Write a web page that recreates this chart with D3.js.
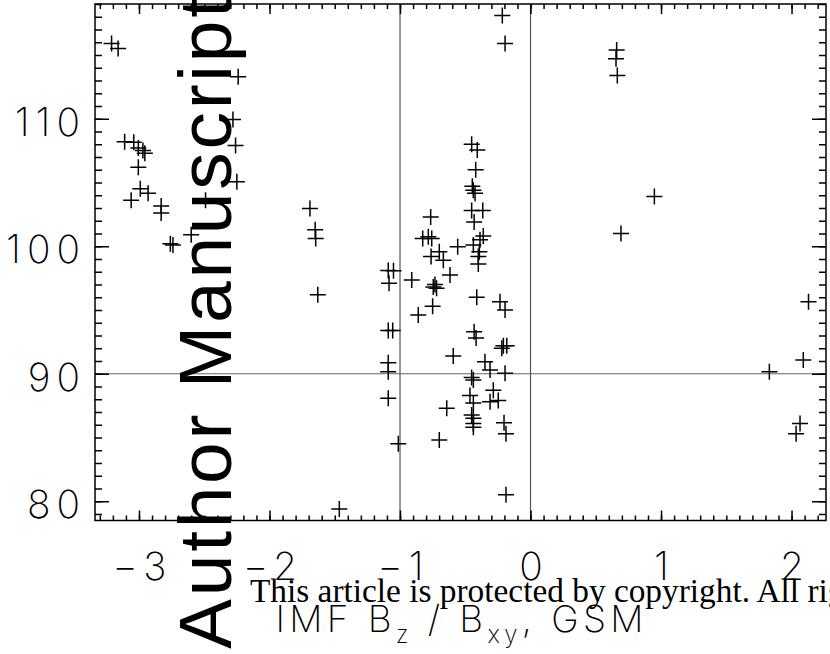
<!DOCTYPE html>
<html>
<head>
<meta charset="utf-8">
<script src="https://cdn.jsdelivr.net/npm/d3@7"></script>
<style>
  body { margin: 0; background: #fff; }
  .lbl { font-family: "Inter", "DejaVu Sans", sans-serif; font-weight: 200; }
</style>
</head>
<body>
<script>
// IMF Bz/Bxy (x) against angle (y)
const bzRatio = [
  -3.21, -3.16, -3.11, -3.04, -3.005, -2.97, -2.955, -3.005, -3.06, -2.99,
  -2.93, -2.83, -2.83, -2.76, -2.74, -2.60, -2.49, -2.24, -2.28, -2.26,
  -2.25, -1.69, -1.65, -1.646, -1.63, -1.465,
  -0.216, -0.195, 0.66, 0.655, 0.665, 0.949, 0.693, 2.13, 2.09, 1.83,
  2.065, 2.035, -0.188,
  -0.451, -0.408, -0.42, -0.446, -0.438, -0.425, -0.451, -0.366, -0.432, -0.765,
  -0.783, -0.826, -0.757, -0.362, -0.387, -0.558, -0.438, -0.699, -0.762, -0.668,
  -0.392, -0.40, -0.40, -1.09, -1.05, -1.084, -0.91, -0.617, -0.732, -0.745,
  -0.72, -0.412,
  -0.234, -0.195, -0.75, -0.86, -1.09, -1.056, -0.432, -0.417, -0.208, -0.182,
  -0.22, -0.592, -0.349, -1.09, -0.31, -1.09, -0.195, -0.451, -0.438, -0.285,
  -0.464, -0.247, -0.31, -0.438, -1.09, -0.642, -0.451, -0.438, -0.438, -0.438,
  -0.203, -0.188, -1.013, -0.699
];
const angle = [
  115.9, 115.5, 108.2, 108.15, 107.7, 107.5, 107.3, 106.2, 103.6, 104.5,
  104.15, 103.15, 102.6, 100.2, 100.1, 100.9, 103.6, 113.3, 109.95, 107.9,
  105.05, 102.97, 101.3, 100.6, 96.2, 79.4,
  118.1, 115.9, 115.4, 114.7, 113.4, 103.9, 101.0, 95.65, 91.07, 90.16,
  86.1, 85.3, 80.5,
  108.0, 107.55, 106.0, 104.7, 104.4, 104.15, 102.8, 102.8, 101.9, 102.3,
  100.75, 100.6, 100.6, 100.8, 100.5, 99.96, 100.1, 99.57, 99.2, 98.9,
  99.57, 99.2, 98.6, 98.1, 98.08, 97.1, 97.35, 97.74, 97.0, 96.8,
  96.7, 96.0,
  95.65, 95.0, 95.3, 94.6, 93.4, 93.4, 93.3, 92.8, 92.2, 92.2,
  92.0, 91.4, 90.94, 90.86, 90.3, 90.16, 90.03, 89.7, 89.5, 88.7,
  88.3, 87.9, 87.8, 87.7, 88.07, 87.3, 86.76, 86.5, 86.1, 85.8,
  86.16, 85.3, 84.5, 84.8
];
const xTicks = [-3, -2, -1, 0, 1, 2];
const yTicks = [80, 90, 100, 110];
const refX = [-1, 0];
const refY = [90];

const width = 830, height = 654;
const plotLeft = 95, plotRight = 826, plotTop = 4, plotBottom = 520.5;

const x = d3.scaleLinear().domain([-3.337, 2.264]).range([plotLeft, plotRight]);
const y = d3.scaleLinear().domain([78.49, 119.0]).range([plotBottom, plotTop]);

const svg = d3.select("body").append("svg")
    .attr("width", width)
    .attr("height", height);

const xMinor = d3.range(-33, 23).map(function(d) { return d / 10; });
const yMinor = d3.range(79, 120);

// reference lines
svg.selectAll(".refx").data(refX).enter().append("line")
    .attr("x1", function(d) { return x(d); }).attr("x2", function(d) { return x(d); })
    .attr("y1", plotTop).attr("y2", plotBottom)
    .style("stroke", "#555").style("stroke-width", 1.2);
svg.selectAll(".refy").data(refY).enter().append("line")
    .attr("x1", plotLeft).attr("x2", plotRight)
    .attr("y1", function(d) { return y(d); }).attr("y2", function(d) { return y(d); })
    .style("stroke", "#666").style("stroke-width", 1.2);

// box axes with inward ticks
function styleAxis(g) {
  g.select(".domain").remove();
  g.selectAll("line").style("stroke", "#000").style("stroke-width", 1.5);
}
svg.append("g").attr("transform", "translate(0," + plotBottom + ")")
    .call(d3.axisBottom(x).tickValues(xMinor).tickSize(-5).tickFormat(""))
    .call(styleAxis);
svg.append("g").attr("transform", "translate(0," + plotTop + ")")
    .call(d3.axisTop(x).tickValues(xMinor).tickSize(-5).tickFormat(""))
    .call(styleAxis);
svg.append("g").attr("transform", "translate(0," + plotTop + ")")
    .call(d3.axisTop(x).tickValues(xTicks).tickSize(-10).tickFormat(""))
    .call(styleAxis);
const xAxis = svg.append("g").attr("transform", "translate(0," + plotBottom + ")")
    .call(d3.axisBottom(x).tickValues(xTicks).tickSize(-10).tickFormat(d3.format("d")))
    .call(styleAxis);
xAxis.attr("font-family", null).attr("font-size", null);
xAxis.selectAll("text")
    .attr("class", "lbl")
    .attr("y", 59.5).attr("dy", 0).attr("dx", 3)
    .attr("font-size", 39).attr("fill", "#000")
    .attr("letter-spacing", 6);

svg.append("g").attr("transform", "translate(" + plotLeft + ",0)")
    .call(d3.axisLeft(y).tickValues(yMinor).tickSize(-7).tickFormat(""))
    .call(styleAxis);
svg.append("g").attr("transform", "translate(" + plotRight + ",0)")
    .call(d3.axisRight(y).tickValues(yMinor).tickSize(-7).tickFormat(""))
    .call(styleAxis);
svg.append("g").attr("transform", "translate(" + plotRight + ",0)")
    .call(d3.axisRight(y).tickValues(yTicks).tickSize(-14).tickFormat(""))
    .call(styleAxis);
const yAxis = svg.append("g").attr("transform", "translate(" + plotLeft + ",0)")
    .call(d3.axisLeft(y).tickValues(yTicks).tickSize(-14).tickFormat(d3.format("d")))
    .call(styleAxis);
yAxis.attr("font-family", null).attr("font-size", null);
yAxis.selectAll("text")
    .attr("class", "lbl")
    .attr("x", -9).attr("dy", 16.7)
    .attr("font-size", 39).attr("fill", "#000")
    .attr("letter-spacing", 6);

svg.append("rect")
    .attr("x", plotLeft).attr("y", plotTop)
    .attr("width", plotRight - plotLeft).attr("height", plotBottom - plotTop)
    .style("fill", "none").style("stroke", "#000").style("stroke-width", 1.5);

// plus markers
const pts = bzRatio.map(function(d, i) { return {bz: d, ang: angle[i]}; });
svg.selectAll(".dot").data(pts).enter().append("path")
    .attr("class", "dot")
    .attr("transform", function(d) { return "translate(" + x(d.bz) + "," + y(d.ang) + ")"; })
    .attr("d", "M-8,0H8M0,-8V8")
    .style("stroke", "#000").style("stroke-width", 1.5).style("fill", "none");

// x axis title
const title = svg.append("text").attr("class", "lbl")
    .attr("x", (plotLeft + plotRight) / 2 - 1).attr("y", 631.7)
    .attr("text-anchor", "middle").attr("font-size", 37);
title.append("tspan").text("IMF  B");
title.append("tspan").attr("font-size", 24).attr("dy", 11).text("z");
title.append("tspan").attr("dy", -11).text("  /  B");
title.append("tspan").attr("font-size", 24).attr("dy", 11).text("xy");
title.append("tspan").attr("dy", -11).text(",  GSM");
title.attr("textLength", 368).attr("lengthAdjust", "spacing");

// watermark overlays
svg.append("text")
    .attr("transform", "translate(231,649) rotate(-90)")
    .attr("font-family", "'Liberation Sans', Arial, sans-serif")
    .attr("font-size", 75)
    .attr("textLength", 652).attr("lengthAdjust", "spacing")
    .text("Author Manuscript");

const notice = svg.append("text")
    .attr("x", 250).attr("y", 601.7)
    .attr("font-family", "'Liberation Serif', 'Times New Roman', serif")
    .attr("font-size", 29)
    .text("This article is protected by copyright. All rights reserved.");
const visLen = notice.node().getSubStringLength(0, 46);
notice.attr("font-size", 29 * 578 / visLen);
</script>
</body>
</html>
